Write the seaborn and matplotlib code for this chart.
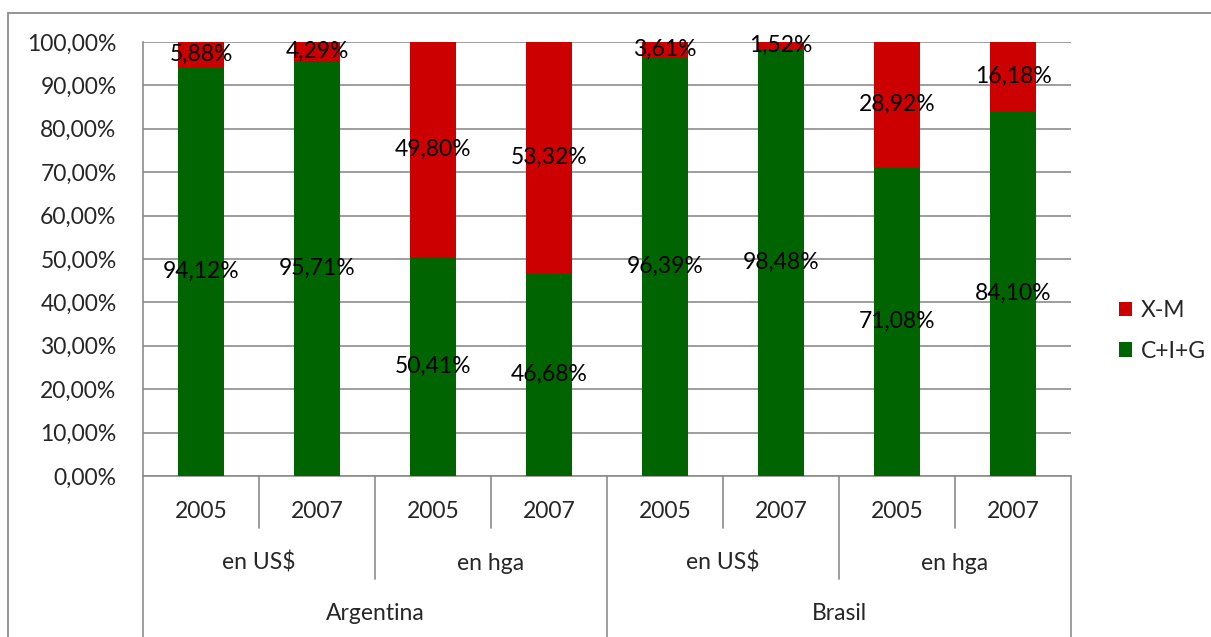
import matplotlib
matplotlib.use("Agg")
import matplotlib.pyplot as plt
import matplotlib.transforms as mtransforms
from matplotlib.patches import Patch
from matplotlib.lines import Line2D
from matplotlib.ticker import FuncFormatter, MultipleLocator
import seaborn as sns
import pandas as pd

# Data: share of demand components (%), per country / measure / year
countries = ["Argentina", "Argentina", "Argentina", "Argentina",
             "Brasil", "Brasil", "Brasil", "Brasil"]
measures = ["en US$", "en US$", "en hga", "en hga",
            "en US$", "en US$", "en hga", "en hga"]
years = ["2005", "2007", "2005", "2007", "2005", "2007", "2005", "2007"]
cig = [94.12, 95.71, 50.41, 46.68, 96.39, 98.48, 71.08, 84.10]
xm = [5.88, 4.29, 49.80, 53.32, 3.61, 1.52, 28.92, 16.18]

GREEN = "#006400"
RED = "#CC0000"
GRID = "#8C8C8C"
FS = 16.5

sns.set_style("white")
plt.rcParams["font.family"] = ["Lato", "DejaVu Sans"]

df = pd.DataFrame({
    "key": [f"{c}|{m}|{y}" for c, m, y in zip(countries, measures, years)],
    "cig": cig,
    "xm": xm,
})
df["total"] = df["cig"] + df["xm"]

W, H = 1211, 637
fig = plt.figure(figsize=(W / 100, H / 100), dpi=100)
ax = fig.add_axes([143 / W, (H - 476) / H, 928 / W, 434 / H])

order = list(df["key"])
sns.barplot(data=df, x="key", y="total", order=order, color=RED,
            width=0.40, saturation=1, linewidth=0, ax=ax, zorder=3)
sns.barplot(data=df, x="key", y="cig", order=order, color=GREEN,
            width=0.40, saturation=1, linewidth=0, ax=ax, zorder=3)

ax.set_xlim(-0.5, len(order) - 0.5)
ax.set_ylim(0, 100)
ax.yaxis.set_major_locator(MultipleLocator(10))
ax.yaxis.set_major_formatter(FuncFormatter(lambda v, p: f"{v:.2f}".replace(".", ",") + "%"))
ax.tick_params(axis="y", which="major", direction="out", length=7, width=1.2,
               color=GRID, labelsize=FS, pad=12)
ax.set_xticks([])
ax.set_xlabel("")
ax.set_ylabel("")
ax.grid(axis="y", color=GRID, linewidth=1.2, zorder=0)
ax.set_axisbelow(True)
for side in ["top", "right"]:
    ax.spines[side].set_visible(False)
for side in ["left", "bottom"]:
    ax.spines[side].set_color(GRID)
    ax.spines[side].set_linewidth(1.2)

# Value labels centred on each visible segment
for i, (g, r) in enumerate(zip(cig, xm)):
    ax.text(i, g / 2, f"{g:.2f}".replace(".", ",") + "%", ha="center",
            va="center", fontsize=FS, color="black", zorder=5)
    top = min(g + r, 100)
    ax.text(i, (g + top) / 2, f"{r:.2f}".replace(".", ",") + "%", ha="center",
            va="center", fontsize=FS, color="black", zorder=5)

# Multi-level category axis
trans = mtransforms.blended_transform_factory(ax.transData, ax.transAxes)
px = 1 / 434
y_year_end = -52 * px
y_meas_end = -103 * px
y_ctry_end = -170 * px

for i, y in enumerate(years):
    ax.text(i, -36 * px, y, transform=trans, ha="center", va="center", fontsize=FS)

meas_groups = [(0, 1), (2, 3), (4, 5), (6, 7)]
for a, b in meas_groups:
    ax.text((a + b) / 2, -87 * px, measures[a], transform=trans,
            ha="center", va="center", fontsize=FS)

ctry_groups = [(0, 3), (4, 7)]
for a, b in ctry_groups:
    ax.text((a + b) / 2, -138 * px, countries[a], transform=trans,
            ha="center", va="center", fontsize=FS)

for k in range(len(order) + 1):
    xb = k - 0.5
    if k in (0, 4, 8):
        yend = y_ctry_end
    elif k % 2 == 0:
        yend = y_meas_end
    else:
        yend = y_year_end
    ax.add_line(Line2D([xb, xb], [0, yend], transform=trans, color=GRID,
                       linewidth=1.2, clip_on=False))

# Legend
handles = [Patch(facecolor=RED, edgecolor="none", label="X-M"),
           Patch(facecolor=GREEN, edgecolor="none", label="C+I+G")]
fig.legend(handles=handles, loc="center left",
           bbox_to_anchor=(1098 / W, 1 - 331 / H), frameon=False,
           fontsize=FS, handlelength=0.6, handleheight=0.6,
           handletextpad=0.35, labelspacing=0.85)

# Chart frame
fig.add_artist(Line2D([8 / W, 1], [1 - 13 / H, 1 - 13 / H], transform=fig.transFigure,
                      color=GRID, linewidth=1.3))
fig.add_artist(Line2D([8 / W, 8 / W], [0, 1 - 13 / H], transform=fig.transFigure,
                      color=GRID, linewidth=1.3))

fig.savefig("out.png", dpi=100)
